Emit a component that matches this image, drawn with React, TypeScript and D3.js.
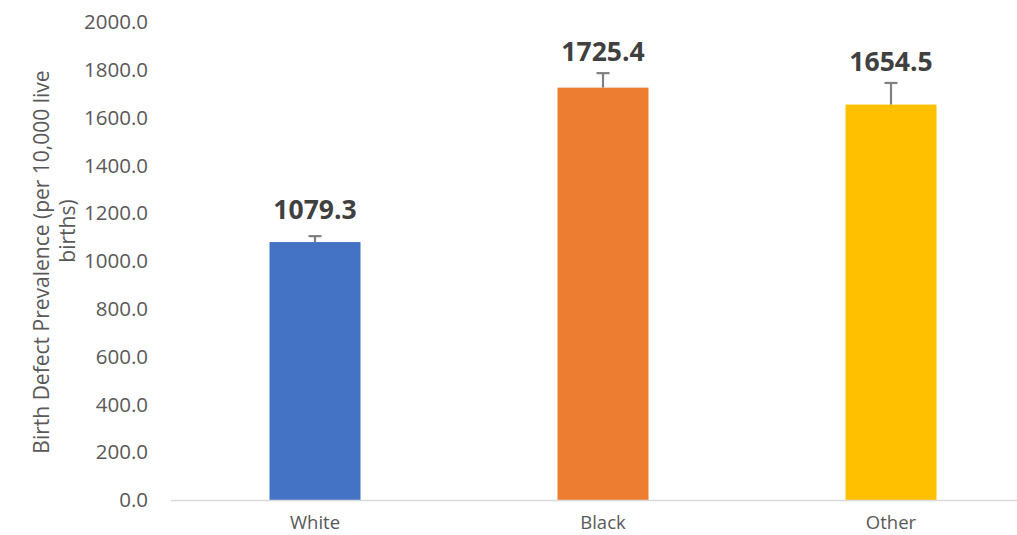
import React from "react";
import * as d3 from "d3";

const categories: string[] = ["White", "Black", "Other"];
const values: number[] = [1079.3, 1725.4, 1654.5];
const upperCI: number[] = [1104, 1786, 1745];
const colors: string[] = ["#4472C4", "#ED7D31", "#FFC000"];
const yTicks: number[] = [0, 200, 400, 600, 800, 1000, 1200, 1400, 1600, 1800, 2000];
const titleLines: string[] = ["Birth Defect Prevalence (per 10,000 live", "births)"];

const W = 1017;
const H = 535;
const FONT = "'Open Sans', 'Noto Sans', sans-serif";

export default function App() {
  const x = d3
    .scaleBand<string>()
    .domain(categories)
    .range([171, 1035])
    .paddingInner(0.684)
    .paddingOuter(0.342);
  const y = d3.scaleLinear().domain([0, 2000]).range([500, 22]);
  const bw = x.bandwidth();

  return (
    <svg
      width={W}
      height={H}
      style={{ position: "absolute", left: 0, top: 0, display: "block", background: "#fff" }}
      fontFamily={FONT}
    >
      {/* y tick labels */}
      {yTicks.map((t) => (
        <text
          key={t}
          x={148}
          y={y(t)}
          dy="0.35em"
          textAnchor="end"
          fontSize={20.5}
          fill="#595959"
        >
          {t.toFixed(1)}
        </text>
      ))}
      {/* y axis title */}
      <text
        transform={`translate(49,262) rotate(-90)`}
        textAnchor="middle"
        fontSize={21}
        fill="#595959"
      >
        {titleLines[0]}
      </text>
      <text
        transform={`translate(75,231) rotate(-90)`}
        textAnchor="middle"
        fontSize={21}
        fill="#595959"
      >
        {titleLines[1]}
      </text>
      {/* bars */}
      {categories.map((c, i) => (
        <rect
          key={c}
          x={x(c)!}
          y={y(values[i])}
          width={bw}
          height={y(0) - y(values[i])}
          fill={colors[i]}
        />
      ))}
      {/* error bars */}
      {categories.map((c, i) => {
        const cx = x(c)! + bw / 2;
        return (
          <g key={c + "-err"} stroke="#808080" strokeWidth={2.2}>
            <line x1={cx} x2={cx} y1={y(values[i])} y2={y(upperCI[i])} />
            <line x1={cx - 6.5} x2={cx + 6.5} y1={y(upperCI[i])} y2={y(upperCI[i])} />
          </g>
        );
      })}
      {/* axis line */}
      <line x1={171} x2={W} y1={y(0) + 0.5} y2={y(0) + 0.5} stroke="#d9d9d9" strokeWidth={1.3} />
      {/* data labels */}
      {categories.map((c, i) => (
        <text
          key={c + "-lbl"}
          x={x(c)! + bw / 2}
          y={Math.min(y(upperCI[i]) - 12, y(values[i]) - 23)}
          textAnchor="middle"
          fontSize={26.5}
          fontWeight="bold"
          fill="#404040"
        >
          {values[i].toFixed(1)}
        </text>
      ))}
      {/* category labels */}
      {categories.map((c) => (
        <text
          key={c + "-cat"}
          x={x(c)! + bw / 2}
          y={529}
          textAnchor="middle"
          fontSize={18.5}
          fill="#595959"
        >
          {c}
        </text>
      ))}
    </svg>
  );
}
